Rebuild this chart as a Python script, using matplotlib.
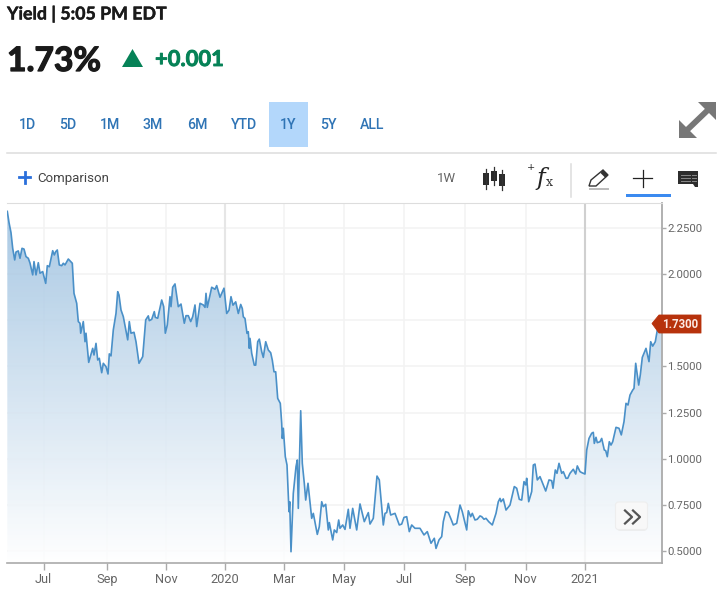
import numpy as np
import matplotlib

matplotlib.use("Agg")
import matplotlib.pyplot as plt
import matplotlib.patheffects as pe
from matplotlib.patches import Polygon, Rectangle, FancyBboxPatch

# x is in chart days from the left edge, y is the yield
days = [0.3, 2, 4, 5.7, 7.7, 9, 11.3, 13, 15, 17, 19, 21.3, 23, 25.7, 27, 29, 31.3, 33, 35.7, 38.7,
        40.3, 42.3, 45.7, 47.3, 48.7, 50.3, 52.3, 54.7, 56.3, 58, 61.3, 65.3, 67, 69.7, 71.3, 73, 73.7,
        76.3, 78, 79, 81.7, 85.7, 87, 89, 90.7, 92.3, 94.7, 96.3, 99, 101, 102.3, 104, 106.3, 109,
        110.7, 112, 114, 116.3, 120.7, 122.3, 124, 127, 129, 132, 135.7, 138.7, 141.3, 142.3, 144.7,
        147.3, 148.3, 150.7, 154.7, 156.7, 158.3, 160.3, 163, 164, 165.7, 168, 171.3, 174, 177.3, 179,
        181.3, 183.7, 185.7, 188, 189.7, 193, 196.3, 198, 199, 200.3, 203, 204.7, 208, 209.7, 213, 217,
        219.7, 222, 224, 226, 228.7, 231.3, 233.7, 235.3, 236.3, 238, 240, 241.3, 242.3, 243, 244.7,
        247.3, 248.7, 250.7, 252.3, 254.7, 256.3, 258.7, 261.3, 263.7, 265.3, 267, 268.7, 270.7, 273.3,
        274.7, 275.3, 276.3, 278.3, 280, 282, 282.7, 284, 286.3, 289, 290.3, 291.3, 293.7, 295.3, 297.3,
        298.7, 301, 304.7, 306.3, 310.3, 312.3, 314.7, 316.3, 318.7, 321.3, 322.3, 325.7, 327.3, 329.7,
        331.7, 333, 335.7, 338, 341.3, 343, 345.7, 349.7, 353, 357.3, 361.3, 363, 366.3, 370, 372.3,
        376.3, 378, 379.7, 381.3, 383.7, 388, 392.3, 394.7, 397, 399.7, 402.3, 404.7, 408, 413, 417,
        420.3, 424, 427.3, 429, 432, 434.7, 436.3, 438.7, 441.3, 443.7, 446.3, 449.7, 453, 455.3, 459.7,
        461.3, 463.7, 465.3, 468, 470.3, 473, 474.7, 477, 479, 481.7, 485.3, 489, 491.3, 493, 494, 496.3,
        499, 503, 507.3, 509.7, 512.3, 514.7, 517, 518.7, 519.7, 521.7, 524.7, 526.3, 528, 530.3, 533,
        536.3, 538.7, 542, 544.7, 546, 548.3, 550, 552, 554.7, 556.3, 559, 560.7, 563, 566.3, 568.7,
        570.3, 573, 575, 578, 579.7, 582, 584.7, 586.3, 587.3, 589, 590.3, 593, 594.7, 597.3, 598.7,
        600.3, 602.3, 604, 605.7, 609, 612, 614.3, 617, 619, 621, 623, 625.7, 627, 628.7, 631.7, 633.3,
        635.3, 639, 642, 643.7, 645.7, 648.3, 650.3, 651.3, 653]
yields = [2.34, 2.28, 2.225, 2.14, 2.077, 2.12, 2.126, 2.086, 2.14, 2.136, 2.095, 2.086, 2.06, 1.996, 2.068,
          1.996, 2.062, 2.005, 2.014, 1.95, 2.046, 2.04, 2.127, 2.104, 2.122, 2.131, 2.05, 2.046, 2.059, 2.05,
          2.082, 2.059, 1.896, 1.842, 1.743, 1.734, 1.68, 1.743, 1.634, 1.68, 1.522, 1.598, 1.562, 1.625, 1.535,
          1.544, 1.466, 1.517, 1.499, 1.459, 1.568, 1.557, 1.698, 1.788, 1.905, 1.887, 1.806, 1.77, 1.644, 1.743,
          1.68, 1.685, 1.634, 1.517, 1.553, 1.752, 1.774, 1.748, 1.755, 1.797, 1.766, 1.761, 1.86, 1.824, 1.68,
          1.725, 1.878, 1.824, 1.929, 1.947, 1.824, 1.838, 1.734, 1.775, 1.775, 1.743, 1.77, 1.833, 1.716, 1.842,
          1.833, 1.82, 1.896, 1.82, 1.887, 1.929, 1.918, 1.938, 1.875, 1.924, 1.787, 1.805, 1.878, 1.832, 1.85,
          1.787, 1.836, 1.814, 1.769, 1.76, 1.679, 1.688, 1.598, 1.652, 1.571, 1.507, 1.507, 1.634, 1.648, 1.58,
          1.549, 1.634, 1.589, 1.574, 1.534, 1.471, 1.471, 1.327, 1.3, 1.192, 1.11, 1.165, 1.011, 0.966, 0.713,
          0.767, 0.496, 0.812, 0.957, 0.993, 0.731, 1.26, 0.975, 0.867, 0.776, 0.867, 0.677, 0.704, 0.59, 0.632,
          0.767, 0.74, 0.753, 0.614, 0.654, 0.56, 0.614, 0.6, 0.668, 0.623, 0.641, 0.617, 0.726, 0.623, 0.731,
          0.614, 0.755, 0.659, 0.708, 0.646, 0.677, 0.906, 0.885, 0.641, 0.704, 0.708, 0.758, 0.695, 0.704, 0.641,
          0.646, 0.682, 0.686, 0.605, 0.641, 0.623, 0.623, 0.587, 0.605, 0.542, 0.569, 0.514, 0.56, 0.578, 0.659,
          0.713, 0.708, 0.677, 0.641, 0.65, 0.749, 0.713, 0.614, 0.718, 0.686, 0.704, 0.668, 0.672, 0.69, 0.686,
          0.672, 0.677, 0.659, 0.641, 0.704, 0.767, 0.785, 0.767, 0.782, 0.722, 0.749, 0.849, 0.84, 0.78, 0.776,
          0.876, 0.858, 0.894, 0.767, 0.822, 0.966, 0.971, 0.885, 0.903, 0.858, 0.825, 0.885, 0.881, 0.84, 0.939,
          0.921, 0.975, 0.921, 0.93, 0.894, 0.894, 0.921, 0.943, 0.917, 0.961, 0.93, 0.924, 0.917, 1.047, 1.11,
          1.138, 1.143, 1.083, 1.116, 1.087, 1.092, 1.11, 1.047, 1.044, 1.011, 1.092, 1.074, 1.092, 1.17, 1.165,
          1.129, 1.201, 1.3, 1.291, 1.345, 1.372, 1.381, 1.517, 1.399, 1.454, 1.549, 1.598, 1.526, 1.634, 1.61,
          1.634, 1.697, 1.72, 1.73]

month_pos = [36.5, 99.7, 159, 218, 276.7, 337.3, 397, 458, 518.7, 577.7]
month_labels = ["Jul", "Sep", "Nov", "2020", "Mar", "May", "Jul", "Sep", "Nov", "2021"]
y_ticks = [0.5, 0.75, 1.0, 1.25, 1.5, 1.75, 2.0, 2.25]
y_labels = ["0.5000", "0.7500", "1.0000", "1.2500", "1.5000", "", "2.0000", "2.2500"]
last_label = "1.7300"
ranges = ["1D", "5D", "1M", "3M", "6M", "YTD", "1Y", "5Y", "ALL"]
range_x = [27, 68, 110, 153, 197, 244, 288, 328, 372]

W, H = 720, 595
X0, X1, Y0, Y1 = 7, 661.5, 203, 563
XMAX = X1 - X0
YMIN, YMAX = 0.435, 2.3855

fig = plt.figure(figsize=(W / 100, H / 100), dpi=100, facecolor="white")

ax = fig.add_axes([X0 / W, 1 - Y1 / H, (X1 - X0) / W, (Y1 - Y0) / H])
ax.set_xlim(0, XMAX)
ax.set_ylim(YMIN, YMAX)

# gradient under the line, mostly opaque so the grid only shows faintly through it
base = np.array([0x41, 0x87, 0xc3]) / 255
shade = np.linspace(0.46, 0.0, 256)
cover = 0.85
grad = np.ones((256, 1, 4))
for c in range(3):
    grad[:, 0, c] = 1 - (shade / cover) * (1 - base[c])
grad[:, 0, 3] = cover
img = ax.imshow(grad, extent=[0, XMAX, YMIN, YMAX], aspect="auto", zorder=2, origin="upper")
outline = [(days[0], YMIN)] + list(zip(days, yields)) + [(XMAX, yields[-1]), (XMAX, YMIN)]
clip = Polygon(outline, closed=True, transform=ax.transData, fc="none", ec="none")
ax.add_patch(clip)
img.set_clip_path(clip)
ax.set_xlim(0, XMAX)
ax.set_ylim(YMIN, YMAX)

ax.plot(days, yields, color="#4a90c8", lw=1.2, zorder=3, solid_joinstyle="round")

ax.set_xticks(month_pos)
ax.set_xticklabels(month_labels, fontfamily="Roboto", fontsize=9.2, color="#666666")
ax.set_yticks(y_ticks)
ax.set_yticklabels(y_labels, fontfamily="Roboto", fontsize=8.2, color="#666666")
ax.yaxis.tick_right()
ax.tick_params(axis="x", length=5, width=1, color="#aaaaaa", pad=2)
ax.tick_params(axis="y", length=3, width=1, color="#aaaaaa", pad=1)
ax.grid(True, color="#f3f3f3", lw=1.2, zorder=1)
ax.axvline(month_pos[3], color="#e6e6e6", lw=1.5, zorder=1)
ax.axvline(month_pos[9], color="#d0d0d0", lw=1.5, zorder=1)
ax.set_axisbelow(True)
ax.spines["left"].set_visible(False)
ax.spines["top"].set_color("#dddddd")
ax.spines["right"].set_color("#aaaaaa")
ax.spines["right"].set_linewidth(1.3)
ax.spines["bottom"].set_color("#aaaaaa")
ax.spines["bottom"].set_linewidth(1.2)

# page chrome drawn in pixel coordinates on top
ui = fig.add_axes([0, 0, 1, 1], facecolor="none")
ui.set_xlim(0, W)
ui.set_ylim(H, 0)
ui.axis("off")

DARK = "#1a1a1a"
GREEN = "#068257"
BLUE = "#2f74b5"


def heavy(color, width):
    return [pe.withStroke(linewidth=width, foreground=color)]


ui.text(7, 13.5, "Yield | 5:05 PM EDT", fontfamily="Lato", fontweight="bold", fontsize=12.8,
        color=DARK, va="center", path_effects=heavy(DARK, 0.3))
ui.text(7, 61, "1.73%", fontfamily="Lato", fontweight="bold", fontsize=24.2, color=DARK, va="center",
        path_effects=heavy(DARK, 0.9))
ui.add_patch(Polygon([(122, 67), (143, 67), (132.5, 49)], fc=GREEN, ec="none"))
ui.text(155, 59.5, "+0.001", fontfamily="Lato", fontweight="bold", fontsize=15.8, color=GREEN, va="center",
        path_effects=heavy(GREEN, 0.6))

# range buttons
ui.add_patch(Rectangle((269, 102), 39, 45, fc="#b3d7fb", ec="none"))
for lab, x in zip(ranges, range_x):
    ui.text(x, 124.6, lab, fontfamily="Roboto", fontweight="medium", fontsize=10.2, color=BLUE,
            ha="center", va="center")

ui.plot([7, 716], [152.5, 152.5], color="#dddddd", lw=1.1)

# expand icon
ui.plot([686, 710], [131, 108], color="#777777", lw=4.2, solid_capstyle="butt")
ui.add_patch(Polygon([(679, 138), (679, 120), (697, 138)], fc="#777777", ec="none"))
ui.add_patch(Polygon([(716, 102), (698, 102), (716, 120)], fc="#777777", ec="none"))

# toolbar
ui.plot([19, 30], [177, 177], color="#2a6fdb", lw=2)
ui.plot([24.5, 24.5], [171.5, 182.5], color="#2a6fdb", lw=2)
ui.text(37, 178.6, "Comparison", fontfamily="Roboto", fontsize=9.5, color="#444444", va="center")
ui.text(446, 178.6, "1W", fontfamily="Roboto", fontsize=9.5, color="#666666", ha="center", va="center")

for cx, top, bot in [(486, 173, 185), (494, 171, 181), (502, 174, 186)]:
    ui.plot([cx, cx], [top - 4, bot + 4], color="#333333", lw=0.9)
    ui.add_patch(Rectangle((cx - 2.7, top), 5.4, bot - top, fc="#2b2b2b", ec="none"))

ui.text(531, 168, "+", fontfamily="DejaVu Serif", fontsize=7, color="#222222", ha="center", va="center")
ui.text(541, 179, "f", fontfamily="DejaVu Serif", fontstyle="italic", fontsize=17, color="#222222",
        ha="center", va="center")
ui.text(549, 182, "x", fontfamily="DejaVu Serif", fontsize=9, color="#333333", ha="center", va="center")
ui.plot([570.5, 570.5], [164, 197], color="#dddddd", lw=1.1)

# pencil
ui.add_patch(Polygon([(589, 186), (591, 180), (603, 170), (608, 175), (596, 186)], fc="white",
                     ec="#333333", lw=1))
ui.add_patch(Polygon([(603, 170), (608, 175), (605.5, 178), (600.5, 173)], fc="#333333", ec="none"))
ui.plot([590, 608], [188.5, 188.5], color="#bbbbbb", lw=1.4)

ui.plot([633, 652], [178, 178], color="#222222", lw=0.9)
ui.plot([642.5, 642.5], [170, 187], color="#222222", lw=0.9)
ui.add_patch(Rectangle((626, 194), 45, 3, fc="#3b8af0", ec="none"))

# comment icon
ui.add_patch(Polygon([(678, 171), (698, 171), (698, 187), (695, 187), (693, 184), (678, 184)],
                     fc="#2d2d2d", ec="none"))
for yy in [174.5, 177.5, 180.5]:
    ui.plot([681, 690], [yy, yy], color="#888888", lw=0.7)
    ui.plot([692, 696], [yy, yy], color="#888888", lw=0.7)

# last value tag
ui.add_patch(Polygon([(652, 323.5), (659, 315), (701, 315), (701, 333), (659, 333)], fc="#b7320c",
                     ec="#b7320c", lw=0.6, joinstyle="round"))
ui.text(680, 324.2, last_label, fontfamily="Roboto", fontweight="bold", fontsize=8.3, color="#fbe9e4",
        ha="center", va="center")

# scroll button
ui.add_patch(FancyBboxPatch((617, 503), 30, 28, boxstyle="round,pad=0,rounding_size=3", fc="#e6e6e6",
                            ec="none", alpha=0.6))
ui.add_patch(FancyBboxPatch((615.5, 502), 32, 27.5, boxstyle="round,pad=0,rounding_size=3", fc="#f8f8f8",
                            ec="#eeeeee", lw=0.8))
for off in [0, 8]:
    ui.plot([625 + off, 632 + off, 625 + off], [510.5, 517, 523.5], color="#555555", lw=1.6)

fig.savefig("out.png", dpi=100, facecolor="white")
